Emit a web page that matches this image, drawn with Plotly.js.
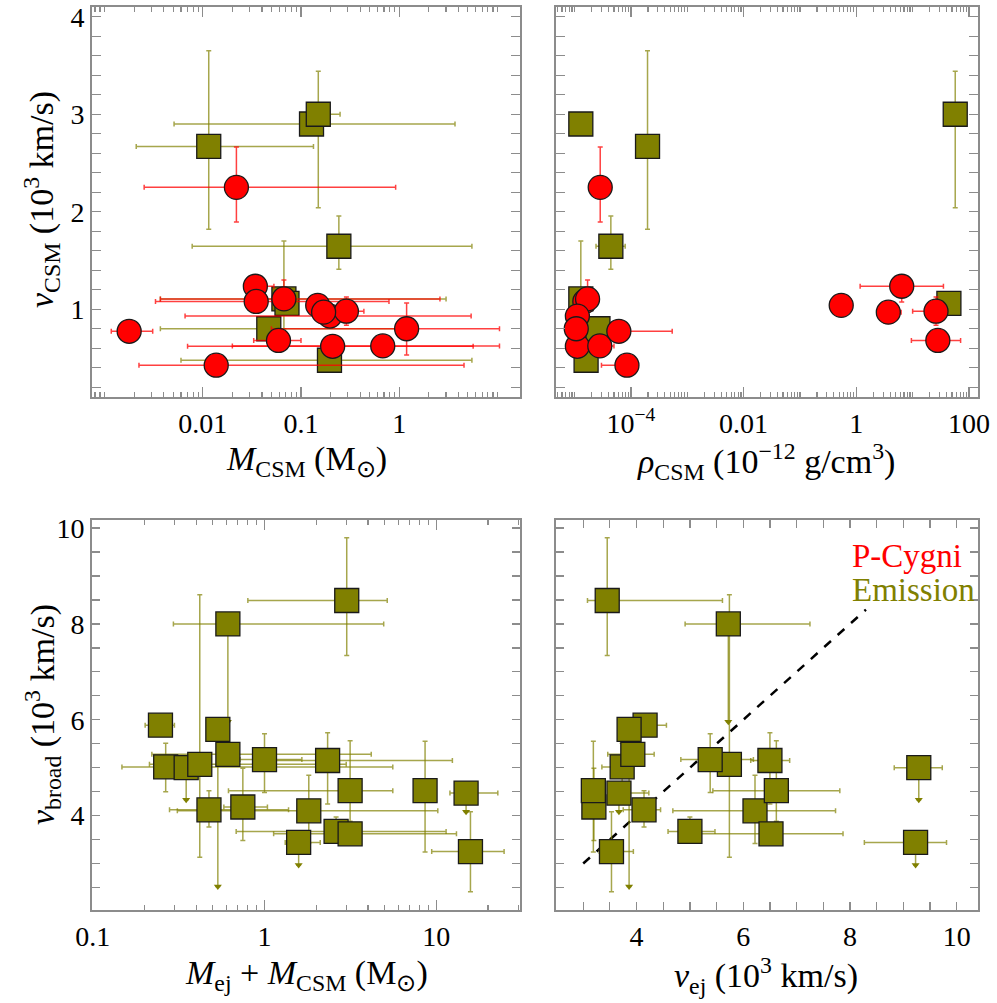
<!DOCTYPE html>
<html>
<head>
<meta charset="utf-8">
<script src="https://cdn.plot.ly/plotly-3.0.1.min.js"></script>
<style>
  html, body { margin: 0; padding: 0; background: #fff; }
  #chart { width: 997px; height: 1003px; }
</style>
</head>
<body>
<div id="chart"></div>
<script>
// P-Cygni objects (top panels)
const pcMcsm   = [0.00178, 0.0137, 0.022, 0.0343, 0.035, 0.067, 0.148, 0.197, 0.29, 0.059, 0.21, 0.68, 1.19, 0.17];
const pcMcsmLo = [0.00117, 0.00224, 0.00253, 0.0343, 0.0033, 0.0037, 0.148, 0.0066, 0.29, 0.033, 0.007, 0.02, 0.05, 0.17];
const pcMcsmHi = [0.00309, 4.57, 0.92, 0.053, 0.787, 2.6, 0.148, 5.4, 0.437, 0.1, 5.66, 10.5, 10.5, 0.17];
const pcRho    = [6.1e-5, 8.5e-5, 2.85e-5, 6.4, 1.52e-5, 1.7e-5, 0.54, 1.12e-5, 26, 28, 1.12e-5, 2.8e-5, 1.07e-5, 3.7];
const pcRhoLo  = [6.1e-5, 3.0e-5, 2.85e-5, 1.17, 1.52e-5, 1.7e-5, 0.54, 1.12e-5, 10, 9.5, 1.12e-5, 2.8e-5, 1.07e-5, 3.7];
const pcRhoHi  = [5.4e-4, 8.5e-5, 2.85e-5, 35.2, 1.52e-5, 1.7e-5, 0.54, 1.12e-5, 26, 71, 1.12e-5, 5.0e-5, 1.07e-5, 6.25];
const pcVcsm   = [0.774, 0.426, 2.25, 1.236, 1.08, 1.106, 1.04, 0.93, 0.98, 0.68, 0.62, 0.624, 0.80, 0.97];
const pcVcsmLo = [0.774, 0.426, 1.895, 1.075, 1.08, 1.106, 1.04, 0.93, 0.836, 0.68, 0.62, 0.624, 0.53, 0.97];
const pcVcsmHi = [0.774, 0.426, 2.665, 1.236, 1.08, 1.30, 1.04, 0.93, 1.126, 0.68, 0.62, 0.624, 1.065, 0.97];

// Emission objects (top panels)
const emMcsm   = [0.0115, 0.128, 0.15, 0.243, 0.067, 0.072, 0.047, 0.195];
const emMcsmLo = [0.0021, 0.0051, 0.15, 0.0078, 0.0037, 0.072, 0.0037, 0.006];
const emMcsmHi = [0.134, 3.7, 0.25, 5.5, 3.0, 0.072, 1.0, 5.5];
const emRho    = [1.97e-4, 1.29e-5, 57, 4.4e-5, 1.29e-5, 44, 2.6e-5, 1.6e-5];
const emRhoLo  = [1.97e-4, 1.29e-5, 45, 2.4e-5, 1.29e-5, 44, 2.6e-5, 1.6e-5];
const emRhoHi  = [1.97e-4, 1.29e-5, 57, 7.9e-5, 1.29e-5, 44, 2.6e-5, 1.6e-5];
const emVcsm   = [2.67, 2.90, 3.0, 1.646, 1.106, 1.06, 0.80, 0.477];
const emVcsmLo = [1.82, 2.90, 2.04, 1.41, 0.80, 1.06, 0.80, 0.477];
const emVcsmHi = [3.65, 2.90, 3.44, 1.957, 1.70, 1.06, 0.80, 0.477];

// Emission objects (bottom panels)
const mTot   = [0.248, 0.266, 0.35, 0.42, 0.535, 0.612, 0.612, 1.0, 2.33, 3.01, 0.475, 0.748, 1.81, 1.58, 2.61, 3.15, 3.15, 8.6, 14.9, 15.8];
const mTotLo = [0.202, 0.148, 0.35, 0.214, 0.535, 0.295, 0.221, 0.72, 1.13, 0.80, 0.28, 0.58, 0.311, 1.32, 0.684, 1.13, 0.617, 8.6, 12, 9.4];
const mTotHi = [0.299, 5.58, 0.35, 2.99, 0.535, 4.94, 4.18, 1.65, 12.4, 5.18, 1.38, 1.04, 10.2, 2.11, 11.4, 13.1, 5.58, 8.6, 22.8, 24.8];
const vEj    = [4.16, 3.73, 9.29, 5.74, 3.86, 5.72, 3.93, 5.38, 6.50, 3.45, 4.14, 3.20, 6.22, 9.23, 5.0, 6.52, 6.62, 3.19, 3.67, 3.53];
const vEjLo  = [3.95, 3.35, 8.83, 5.6, 3.86, 4.91, 3.46, 4.83, 6.14, 3.08, 3.75, 3.20, 4.68, 8.27, 4.59, 5.12, 5.43, 3.19, 3.50, 3.30];
const vEjHi  = [4.56, 3.9, 9.73, 5.9, 3.86, 7.25, 4.33, 6.19, 6.87, 5.61, 4.45, 3.20, 7.73, 9.81, 5.47, 7.87, 7.81, 3.19, 4.23, 3.94];
const vBroad   = [5.887, 5.017, 5.0, 5.07, 5.80, 8.0, 5.28, 5.17, 5.15, 8.49, 4.12, 4.18, 4.10, 3.44, 3.67, 3.62, 4.52, 4.52, 4.47, 3.25];
const vBroadLo = [5.887, 4.50, 4.33, 3.13, 2.52, 5.96, 5.28, 4.48, 4.24, 7.34, 3.76, 3.48, 3.42, 2.97, 3.55, 3.62, 3.88, 3.24, 4.08, 2.41];
const vBroadHi = [5.887, 5.51, 5.0, 8.61, 5.80, 8.0, 5.28, 5.71, 5.73, 9.80, 4.52, 4.99, 4.84, 3.44, 3.97, 3.62, 5.56, 5.55, 4.47, 4.08];
const upperLim = [0, 0, 1, 0, 1, 1, 0, 0, 0, 0, 0, 0, 0, 1, 0, 0, 0, 0, 1, 0];

// one-to-one line in the v_ej panel
const oneToOne = [3.0, 8.3];

const RED = '#ff0000';
const OLIVE = '#808000';
const RED_ERR = 'rgba(255,0,0,0.75)';
const OLIVE_ERR = 'rgba(128,128,0,0.7)';
const SERIF = 'Liberation Serif';
const W = 997, H = 1003;

const plus = (v, hi) => hi.map((h, i) => h - v[i]);
const minus = (v, lo) => lo.map((l, i) => v[i] - l);

function errs(v, lo, hi, color) {
  return { type: 'data', symmetric: false, array: plus(v, hi), arrayminus: minus(v, lo),
           color: color, thickness: 1.5, width: 2.5 };
}

function pts(x, xlo, xhi, y, ylo, yhi, sym, fill, ecol, xa, ya) {
  return {
    x: x, y: y, type: 'scatter', mode: 'markers', xaxis: xa, yaxis: ya,
    marker: { symbol: sym, size: 24, color: fill, line: { color: '#1a1a1a', width: 1.3 } },
    error_x: errs(x, xlo, xhi, ecol),
    error_y: errs(y, ylo, yhi, ecol),
    hoverinfo: 'skip', showlegend: false
  };
}

const ulX1 = mTot.filter((_, i) => upperLim[i]);
const ulX2 = vEj.filter((_, i) => upperLim[i]);
const ulY = vBroadLo.filter((_, i) => upperLim[i]);

function arrows(x, y, xa, ya) {
  return { x: x, y: y, type: 'scatter', mode: 'markers', xaxis: xa, yaxis: ya,
    marker: { symbol: 'triangle-down', size: 7, color: OLIVE }, hoverinfo: 'skip', showlegend: false };
}

const traces = [
  pts(emMcsm, emMcsmLo, emMcsmHi, emVcsm, emVcsmLo, emVcsmHi, 'square', OLIVE, OLIVE_ERR, 'x', 'y'),
  pts(pcMcsm, pcMcsmLo, pcMcsmHi, pcVcsm, pcVcsmLo, pcVcsmHi, 'circle', RED, RED_ERR, 'x', 'y'),
  pts(emRho, emRhoLo, emRhoHi, emVcsm, emVcsmLo, emVcsmHi, 'square', OLIVE, OLIVE_ERR, 'x2', 'y2'),
  pts(pcRho, pcRhoLo, pcRhoHi, pcVcsm, pcVcsmLo, pcVcsmHi, 'circle', RED, RED_ERR, 'x2', 'y2'),
  arrows(ulX1, ulY, 'x3', 'y3'),
  pts(mTot, mTotLo, mTotHi, vBroad, vBroadLo, vBroadHi, 'square', OLIVE, OLIVE_ERR, 'x3', 'y3'),
  { x: oneToOne, y: oneToOne, type: 'scatter', mode: 'lines', xaxis: 'x4', yaxis: 'y4',
    line: { color: '#000', width: 2.5, dash: 'dash' }, hoverinfo: 'skip', showlegend: false },
  arrows(ulX2, ulY, 'x4', 'y4'),
  pts(vEj, vEjLo, vEjHi, vBroad, vBroadLo, vBroadHi, 'square', OLIVE, OLIVE_ERR, 'x4', 'y4')
];

// minor tick positions for log axes
function logMinor(d0, d1) {
  const out = [];
  for (let d = d0; d <= d1; d++) for (let m = 1; m <= 9; m++) out.push(m * Math.pow(10, d));
  return out;
}

const base = {
  showline: true, mirror: 'allticks', linecolor: '#8c8c8c', linewidth: 2,
  ticks: 'inside', ticklen: 8, tickwidth: 1.3, tickcolor: '#8c8c8c',
  showgrid: false, zeroline: false, fixedrange: true,
  tickfont: { family: SERIF, size: 28, color: '#000' }
};
const minorBase = { ticks: 'inside', ticklen: 5, tickwidth: 1.2, tickcolor: '#8c8c8c', showgrid: false };

const xL = [92 / W, 520 / W], xR = [556 / W, 978 / W];
const yT = [1 - 397 / H, 1 - 7 / H], yB = [1 - 910 / H, 1 - 520 / H];

const layout = {
  width: W, height: H, margin: { l: 0, r: 0, t: 0, b: 0 },
  paper_bgcolor: '#fff', plot_bgcolor: '#fff', showlegend: false,
  font: { family: SERIF, color: '#000' },
  xaxis: Object.assign({}, base, { type: 'log', domain: xL, anchor: 'y', range: [-3.128, 1.23],
    tickmode: 'array', tickvals: [0.01, 0.1, 1], ticktext: ['0.01', '0.1', '1'], ticklen: 10,
    minor: Object.assign({}, minorBase, { tickmode: 'array', tickvals: logMinor(-4, 1) }) }),
  yaxis: Object.assign({}, base, { domain: yT, anchor: 'x', range: [0.1, 4.1],
    tickmode: 'array', tickvals: [1, 2, 3, 4], ticklen: 9,
    minor: Object.assign({}, minorBase, { dtick: 0.2, ticklen: 9 }) }),
  xaxis2: Object.assign({}, base, { type: 'log', domain: xR, anchor: 'y2', range: [-5.33, 2.16],
    tickmode: 'array', tickvals: [1e-4, 0.01, 1, 100],
    ticktext: ['10<sup>−4</sup>', '0.01', '1', '100'], ticklen: 10,
    minor: Object.assign({}, minorBase, { tickmode: 'array', tickvals: logMinor(-6, 2) }) }),
  yaxis2: Object.assign({}, base, { domain: yT, anchor: 'x2', range: [0.1, 4.1], showticklabels: false,
    tickmode: 'array', tickvals: [1, 2, 3, 4], ticklen: 9,
    minor: Object.assign({}, minorBase, { dtick: 0.2, ticklen: 9 }) }),
  xaxis3: Object.assign({}, base, { type: 'log', domain: xL, anchor: 'y3', range: [-1.004, 1.487],
    tickmode: 'array', tickvals: [0.1, 1, 10], ticktext: ['0.1', '1', '10'], ticklen: 10,
    minor: Object.assign({}, minorBase, { tickmode: 'array', tickvals: logMinor(-2, 1) }) }),
  yaxis3: Object.assign({}, base, { domain: yB, anchor: 'x3', range: [2.03, 10.17],
    tickmode: 'array', tickvals: [4, 6, 8, 10], ticklen: 8,
    minor: Object.assign({}, minorBase, { dtick: 0.5, ticklen: 8 }) }),
  xaxis4: Object.assign({}, base, { domain: xR, anchor: 'y4', range: [2.49, 10.4],
    tickmode: 'array', tickvals: [4, 6, 8, 10], ticklen: 8,
    minor: Object.assign({}, minorBase, { dtick: 0.5, ticklen: 8 }) }),
  yaxis4: Object.assign({}, base, { domain: yB, anchor: 'x4', range: [2.03, 10.17], showticklabels: false,
    tickmode: 'array', tickvals: [4, 6, 8, 10], ticklen: 8,
    minor: Object.assign({}, minorBase, { dtick: 0.5, ticklen: 8 }) }),
  annotations: [
    { text: '<i>M</i><sub>CSM</sub> (M<sub>⊙</sub>)', x: 306 / W, y: 1 - 461 / H },
    { text: '<i>ρ</i><sub>CSM</sub> (10<sup>−12</sup> g/cm<sup>3</sup>)', x: 766 / W, y: 1 - 461 / H },
    { text: '<i>M</i><sub>ej</sub> + <i>M</i><sub>CSM</sub> (M<sub>⊙</sub>)', x: 306 / W, y: 1 - 975 / H },
    { text: '<i>v</i><sub>ej</sub> (10<sup>3</sup> km/s)', x: 766 / W, y: 1 - 975 / H },
    { text: '<i>v</i><sub>CSM</sub> (10<sup>3</sup> km/s)', x: 42 / W, y: 1 - 200 / H, textangle: -90 },
    { text: '<i>v</i><sub>broad</sub> (10<sup>3</sup> km/s)', x: 42 / W, y: 1 - 715 / H, textangle: -90 }
  ].map(a => Object.assign({ xref: 'paper', yref: 'paper', showarrow: false,
    xanchor: 'center', yanchor: 'middle', font: { family: SERIF, size: 34, color: '#000' } }, a))
  .concat([
    { text: 'P-Cygni', x: 850 / W, y: 1 - 556 / H, xref: 'paper', yref: 'paper', showarrow: false,
      xanchor: 'left', yanchor: 'middle', font: { family: SERIF, size: 33, color: RED } },
    { text: 'Emission', x: 850 / W, y: 1 - 590 / H, xref: 'paper', yref: 'paper', showarrow: false,
      xanchor: 'left', yanchor: 'middle', font: { family: SERIF, size: 33, color: OLIVE } }
  ])
};

Plotly.newPlot('chart', traces, layout, { staticPlot: true, displayModeBar: false });
</script>
</body>
</html>
